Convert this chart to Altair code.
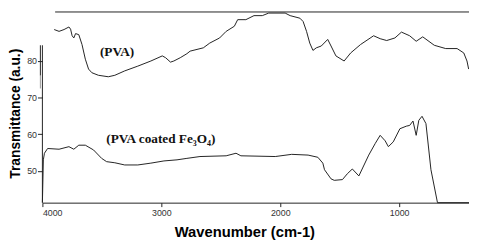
import altair as alt
import pandas as pd

# PVA spectrum (wavenumber cm-1, transmittance a.u.)
pva_wn = [3901, 3860, 3818, 3777, 3763, 3750, 3736, 3721, 3694, 3667, 3639, 3612, 3584,
          3529, 3446, 3391, 3308, 3198, 3088, 2992, 2964, 2923, 2895, 2841, 2785, 2758,
          2647, 2593, 2510, 2455, 2386, 2358, 2289, 2221, 2151, 2097, 1959, 1917, 1835,
          1808, 1779, 1752, 1725, 1697, 1655, 1601, 1573, 1532, 1463, 1408, 1325, 1215,
          1160, 1105, 1036, 981, 912, 857, 802, 705, 609, 513, 457, 430, 416]
pva_t = [88.6, 88.1, 88.6, 89.3, 88.7, 86.9, 86.3, 87.5, 87.2, 84.5, 80.5, 77.8, 76.8,
         76.1, 75.7, 76.1, 77.3, 78.6, 80.0, 81.4, 80.9, 79.7, 80.0, 80.9, 82.0, 82.7,
         83.6, 84.9, 86.3, 88.1, 89.5, 91.3, 91.3, 92.4, 92.4, 93.1, 93.1, 92.4, 91.7,
         90.8, 88.1, 84.9, 82.9, 83.6, 84.1, 85.9, 84.1, 81.4, 80.0, 82.2, 84.5, 86.9,
         86.1, 85.6, 86.3, 87.9, 86.9, 85.4, 86.6, 84.3, 83.4, 83.4, 82.2, 80.0, 77.8]

# PVA coated Fe3O4 spectrum
coat_wn = [4000, 3992, 3983, 3956, 3860, 3777, 3736, 3694, 3639, 3570, 3502, 3460, 3391,
           3308, 3198, 3088, 2978, 2868, 2785, 2675, 2455, 2372, 2331, 2042, 1904, 1766,
           1684, 1642, 1628, 1573, 1546, 1477, 1436, 1394, 1339, 1256, 1201, 1160, 1118,
           1091, 1050, 994, 940, 912, 884, 857, 835, 808, 775, 733, 678, 413]
coat_t = [41.3, 53.0, 54.8, 56.1, 55.9, 56.6, 55.9, 57.0, 57.0, 55.7, 53.4, 52.5, 52.2,
          51.6, 51.6, 52.1, 52.7, 53.0, 53.4, 53.9, 54.1, 54.8, 54.1, 53.9, 54.5, 54.3,
          53.7, 52.1, 50.3, 47.8, 47.4, 47.6, 49.2, 50.5, 48.6, 54.3, 57.5, 59.7, 58.2,
          56.6, 57.9, 61.5, 62.2, 62.4, 63.6, 59.7, 63.8, 64.9, 62.9, 50.3, 41.3, 41.3]

x_ticks = [4000, 3000, 2000, 1000]
y_ticks = [50, 60, 70, 80]
labels = ["(PVA)", "(PVA coated Fe₃O₄)"]
label_wn = [3372, 3004]
label_t = [82.4, 58.8]

X_DOM = [4000, 413]
Y_DOM = [41.3, 93.4]

df = pd.concat([
    pd.DataFrame({"wn": pva_wn, "t": pva_t, "s": "PVA"}),
    pd.DataFrame({"wn": coat_wn, "t": coat_t, "s": "coated"}),
])

xs = alt.Scale(domain=X_DOM, nice=False, zero=False)
ys = alt.Scale(domain=Y_DOM, nice=False, zero=False)

xax = alt.Axis(values=x_ticks, format="d", title="Wavenumber (cm-1)", grid=False, tickSize=4,
               tickColor="#222", domainColor="#222", labelFontSize=9, labelColor="#333",
               labelFont="Liberation Sans", labelPadding=2, titleFont="Liberation Sans",
               titleFontSize=15, titleFontWeight="bold", titleColor="#000",
               titleX=205.5, titleY=34.3, titleBaseline="alphabetic", titleAlign="center")
yax = alt.Axis(values=y_ticks, format="d", title="Transmittance (a.u.)", grid=False, tickSize=5,
               domain=False, tickColor="#222", labelFontSize=9, labelColor="#333",
               labelFont="Liberation Sans", labelPadding=1, titleFont="Liberation Sans",
               titleFontSize=14, titleFontWeight="bold", titleColor="#000",
               titleX=-23, titleY=103, titleAngle=270, titleBaseline="alphabetic",
               titleAlign="center")

lines = alt.Chart(df).mark_line(color="#222", strokeWidth=1, clip=False).encode(
    x=alt.X("wn:Q", scale=xs, axis=xax),
    y=alt.Y("t:Q", scale=ys, axis=yax),
    detail="s:N",
)

rules_df = pd.DataFrame({
    "x1": [3893, 4000, 4017, 4017],
    "x2": [413, 4000, 4017, 4017],
    "y1": [93.4, 41.3, 84.3, 76.0],
    "y2": [93.4, 84.3, 76.0, 72.5],
    "c": ["#222", "#222", "#222", "#999"],
})
rules = alt.Chart(rules_df).mark_rule(strokeWidth=1, clip=False).encode(
    x=alt.X("x1:Q", scale=xs), x2="x2:Q",
    y=alt.Y("y1:Q", scale=ys), y2="y2:Q",
    color=alt.Color("c:N", scale=None),
)

txt_df = pd.DataFrame({"label": labels, "wn": label_wn, "t": label_t})
texts = alt.Chart(txt_df).mark_text(font="Liberation Serif", fontSize=13.5, fontWeight="bold",
                                    color="#111", baseline="middle", align="center").encode(
    x=alt.X("wn:Q", scale=xs), y=alt.Y("t:Q", scale=ys), text="label:N")

chart = alt.layer(lines, rules, texts).properties(
    width=434, height=194,
    autosize=alt.AutoSizeParams(type="none"),
    padding={"left": 35, "top": 2, "right": 0, "bottom": 39},
    background="white",
).configure_view(stroke=None)

chart.save("out.html", embed_options={"renderer": "svg", "actions": False})
